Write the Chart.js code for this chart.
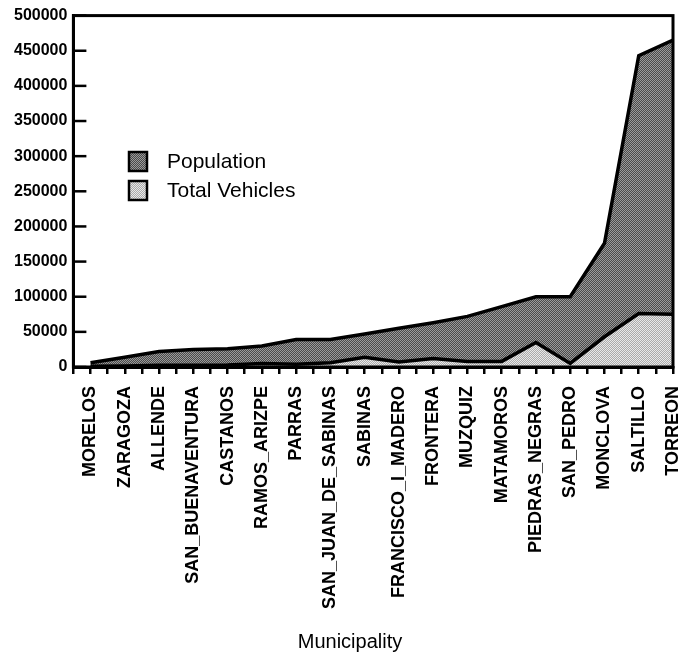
<!DOCTYPE html>
<html>
<head>
<meta charset="utf-8">
<script src="https://cdn.jsdelivr.net/npm/chart.js@4.4.1/dist/chart.umd.min.js"></script>
<style>
  html, body { margin: 0; padding: 0; background: #fff; }
  #Contenedor { width: 683px; height: 658px; }
</style>
</head>
<body>
<div id="Contenedor"><canvas id="Grafico"></canvas></div>
<script>
const Municipios = ['MORELOS', 'ZARAGOZA', 'ALLENDE', 'SAN_BUENAVENTURA', 'CASTANOS', 'RAMOS_ARIZPE', 'PARRAS',
  'SAN_JUAN_DE_SABINAS', 'SABINAS', 'FRANCISCO_I_MADERO', 'FRONTERA', 'MUZQUIZ', 'MATAMOROS',
  'PIEDRAS_NEGRAS', 'SAN_PEDRO', 'MONCLOVA', 'SALTILLO', 'TORREON'];
const Poblacion = [6000, 14000, 22000, 25000, 26000, 30000, 39000, 39000, 47000, 55000, 63000, 72000, 86000,
  100000, 100000, 176000, 443000, 465000];
const Vehiculos = [1000, 1500, 2500, 2500, 3000, 5000, 4000, 6000, 14000, 7000, 12000, 8000, 8000,
  35000, 5000, 43000, 76000, 75000];
const MarcasY = [0, 50000, 100000, 150000, 200000, 250000, 300000, 350000, 400000, 450000, 500000];
const Series = ['Population', 'Total Vehicles'];
const TituloX = 'Municipality';

const Fuente = "'Liberation Sans', Arial, Helvetica, sans-serif";

// trama punteada tipo impresora, 2x2
function Trama(ColorA, ColorB) {
  const Lienzo = document.createElement('canvas');
  Lienzo.width = 2; Lienzo.height = 2;
  const C = Lienzo.getContext('2d');
  C.fillStyle = ColorA; C.fillRect(0, 0, 2, 2);
  C.fillStyle = ColorB; C.fillRect(0, 0, 1, 1); C.fillRect(1, 1, 1, 1);
  return C.createPattern(Lienzo, 'repeat');
}

const FondoOscuro = Trama('#4a4a4a', '#9a9a9a');
const FondoClaro  = Trama('#aaaaaa', '#e8e8e8');

// marco, marcas internas del eje Y, leyenda y titulo X
const PluginMarco = {
  id: 'Marco',
  afterDraw(Grafico) {
    const { ctx: Ctx, chartArea: A, scales } = Grafico;
    Ctx.save();
    Ctx.strokeStyle = '#000';
    Ctx.lineWidth = 3;
    Ctx.strokeRect(A.left, A.top, A.right - A.left, A.bottom - A.top);

    Ctx.lineWidth = 2.5;
    scales.y.ticks.forEach(T => {
      const Y = scales.y.getPixelForValue(T.value);
      Ctx.beginPath(); Ctx.moveTo(A.left, Y); Ctx.lineTo(A.left + 13, Y); Ctx.stroke();
    });

    const Fondos = [FondoOscuro, FondoClaro];
    Series.forEach((Nombre, I) => {
      const Y = 152 + I * 29;
      Ctx.fillStyle = Fondos[I];
      Ctx.fillRect(129, Y, 18, 19);
      Ctx.lineWidth = 2.5;
      Ctx.strokeRect(129, Y, 18, 19);
      Ctx.fillStyle = '#000';
      Ctx.font = `21px ${Fuente}`;
      Ctx.textBaseline = 'middle';
      Ctx.fillText(Nombre, 167, Y + 10);
    });

    Ctx.font = `20px ${Fuente}`;
    Ctx.textAlign = 'center';
    Ctx.textBaseline = 'middle';
    Ctx.fillText(TituloX, 350, 642);
    Ctx.restore();
  }
};

const Puntos = Arr => Arr.map((V, I) => ({ x: I, y: V }));

new Chart(document.getElementById('Grafico').getContext('2d'), {
  type: 'line',
  data: {
    datasets: [
      {
        label: Series[0],
        data: Puntos(Poblacion),
        fill: 'origin',
        backgroundColor: FondoOscuro,
        borderColor: '#000',
        borderWidth: 3.5,
        pointRadius: 0,
        tension: 0,
        order: 1
      },
      {
        label: Series[1],
        data: Puntos(Vehiculos),
        fill: 'origin',
        backgroundColor: FondoClaro,
        borderColor: '#000',
        borderWidth: 3.5,
        pointRadius: 0,
        tension: 0,
        order: 0
      }
    ]
  },
  options: {
    responsive: true,
    maintainAspectRatio: false,
    animation: false,
    layout: { padding: { top: 15, right: 10, bottom: 0, left: 8 } },
    plugins: { legend: { display: false }, tooltip: { enabled: false } },
    scales: {
      x: {
        type: 'linear',
        min: -0.5,
        max: Municipios.length - 1,
        afterBuildTicks: Escala => {
          const Lista = [];
          for (let V = -0.5; V <= Municipios.length - 1; V += 0.5) Lista.push({ value: V });
          Escala.ticks = Lista;
        },
        afterFit: Escala => {
          Escala.paddingLeft = 0;
          Escala.paddingRight = 0;
          Escala.height = 291;
        },
        ticks: {
          autoSkip: false,
          minRotation: 90,
          maxRotation: 90,
          padding: 12,
          color: '#000',
          font: { family: Fuente, size: 18, weight: 'bold' },
          callback: V => Number.isInteger(V) ? Municipios[V] : ''
        },
        grid: { drawOnChartArea: false, drawTicks: true, tickLength: 7, color: '#000', lineWidth: 2.5 },
        border: { display: true, color: '#000', width: 3 }
      },
      y: {
        min: 0,
        max: 500000,
        afterBuildTicks: Escala => { Escala.ticks = MarcasY.map(V => ({ value: V })); },
        ticks: {
          padding: 6,
          color: '#000',
          font: { family: Fuente, size: 16, weight: 'bold' },
          callback: V => String(V)
        },
        grid: { display: false, drawTicks: false },
        border: { display: true, color: '#000', width: 3 }
      }
    }
  },
  plugins: [PluginMarco]
});
</script>
</body>
</html>
